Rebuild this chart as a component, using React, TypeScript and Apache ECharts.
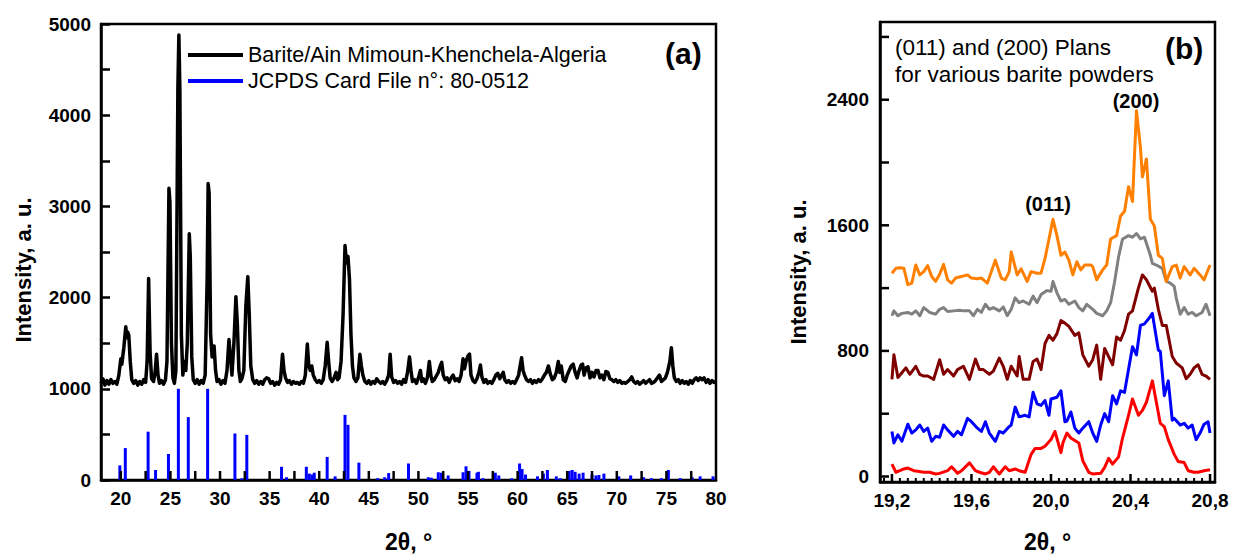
import React, { useEffect, useRef } from "react";
import * as echarts from "echarts";

const FONT = '"Liberation Sans", Arial, Helvetica, sans-serif';

// ---------- Panel (a) ----------
const sampleName = "Barite/Ain Mimoun-Khenchela-Algeria";
const refName = "JCPDS Card File n°: 80-0512";
const yTitle = "Intensity, a. u.";
const xTitle = "2θ, °";

const aXLabels = [20, 25, 30, 35, 40, 45, 50, 55, 60, 65, 70, 75, 80];
const aXTicks = [20, 22.5, 25, 27.5, 30, 32.5, 35, 37.5, 40, 42.5, 45, 47.5, 50, 52.5, 55, 57.5, 60, 62.5, 65, 67.5, 70, 72.5, 75, 77.5];
const aYLabelStep = 1000;
const aYTickStep = 500;

const bariteTrace: [number, number][] = [
  [18.0, 1060], [18.2, 1110], [18.4, 1040], [18.6, 1090], [18.8, 1050], [19.0, 1100], [19.2, 1060], [19.4, 1080],
  [19.6, 1050], [19.8, 1150], [19.9, 1240], [20.0, 1330], [20.1, 1270], [20.3, 1450], [20.5, 1680], [20.6, 1560],
  [20.7, 1620], [20.8, 1590], [20.95, 1300], [21.1, 1100], [21.3, 1060], [21.5, 1090], [21.7, 1040], [21.9, 1080],
  [22.1, 1050], [22.3, 1100], [22.5, 1070], [22.65, 1300], [22.8, 2210], [22.95, 1400], [23.1, 1110], [23.3, 1080],
  [23.45, 1180], [23.6, 1380], [23.75, 1150], [23.9, 1060], [24.1, 1090], [24.3, 1050], [24.5, 1100], [24.65, 1300],
  [24.85, 3200], [24.95, 3050], [25.1, 1500], [25.25, 1120], [25.4, 1060], [25.55, 1200], [25.75, 4300], [25.85, 4880],
  [25.95, 4300], [26.1, 1600], [26.25, 1150], [26.4, 1300], [26.55, 1200], [26.7, 1500], [26.9, 2700], [27.0, 2450],
  [27.15, 1350], [27.3, 1100], [27.5, 1060], [27.7, 1100], [27.9, 1050], [28.1, 1090], [28.3, 1060], [28.5, 1150],
  [28.7, 2200], [28.8, 3250], [28.9, 3150], [29.05, 1600], [29.2, 1350], [29.4, 1470], [29.55, 1200], [29.7, 1080],
  [29.9, 1100], [30.1, 1050], [30.3, 1090], [30.5, 1060], [30.7, 1200], [30.9, 1540], [31.05, 1350], [31.2, 1150],
  [31.4, 1500], [31.6, 2010], [31.75, 1700], [31.9, 1200], [32.05, 1080], [32.2, 1110], [32.4, 1200], [32.6, 1900],
  [32.8, 2230], [32.95, 1800], [33.1, 1250], [33.3, 1100], [33.5, 1060], [33.7, 1090], [33.9, 1050], [34.1, 1080],
  [34.3, 1050], [34.5, 1100], [34.7, 1120], [34.9, 1110], [35.1, 1060], [35.3, 1080], [35.5, 1040], [35.7, 1070],
  [35.9, 1050], [36.1, 1100], [36.3, 1380], [36.45, 1200], [36.6, 1120], [36.8, 1070], [37.0, 1090], [37.2, 1050],
  [37.4, 1080], [37.6, 1060], [37.8, 1070], [38.0, 1050], [38.2, 1080], [38.4, 1060], [38.6, 1150], [38.8, 1490],
  [38.95, 1250], [39.1, 1200], [39.25, 1250], [39.4, 1150], [39.6, 1100], [39.8, 1070], [40.0, 1090], [40.2, 1060],
  [40.4, 1100], [40.6, 1250], [40.8, 1510], [40.95, 1300], [41.1, 1120], [41.3, 1080], [41.5, 1120], [41.7, 1180],
  [41.85, 1100], [42.0, 1120], [42.2, 1300], [42.4, 1800], [42.6, 2570], [42.75, 2380], [42.9, 2450], [43.05, 2200],
  [43.2, 1600], [43.35, 1250], [43.5, 1120], [43.7, 1080], [43.9, 1120], [44.1, 1380], [44.25, 1250], [44.4, 1150],
  [44.6, 1080], [44.8, 1060], [45.0, 1090], [45.2, 1050], [45.4, 1080], [45.6, 1060], [45.8, 1110], [46.0, 1080],
  [46.2, 1060], [46.4, 1080], [46.6, 1050], [46.8, 1090], [47.0, 1150], [47.15, 1380], [47.3, 1130], [47.5, 1070],
  [47.7, 1090], [47.9, 1060], [48.1, 1080], [48.3, 1050], [48.5, 1100], [48.7, 1070], [48.9, 1180], [49.1, 1350],
  [49.25, 1200], [49.4, 1080], [49.6, 1100], [49.8, 1060], [50.0, 1120], [50.2, 1200], [50.35, 1080], [50.5, 1110],
  [50.7, 1060], [50.9, 1120], [51.1, 1300], [51.25, 1150], [51.4, 1080], [51.6, 1100], [51.8, 1140], [52.0, 1180],
  [52.2, 1250], [52.35, 1290], [52.5, 1150], [52.7, 1100], [52.9, 1120], [53.1, 1070], [53.3, 1120], [53.5, 1150],
  [53.7, 1090], [53.9, 1110], [54.1, 1080], [54.3, 1150], [54.5, 1330], [54.65, 1220], [54.8, 1300], [55.0, 1360],
  [55.15, 1380], [55.3, 1150], [55.5, 1090], [55.7, 1070], [55.9, 1110], [56.1, 1180], [56.25, 1260], [56.4, 1130],
  [56.6, 1070], [56.8, 1100], [57.0, 1060], [57.2, 1080], [57.4, 1060], [57.6, 1100], [57.8, 1150], [58.0, 1170],
  [58.2, 1110], [58.4, 1150], [58.55, 1180], [58.7, 1100], [58.9, 1070], [59.1, 1090], [59.3, 1060], [59.5, 1080],
  [59.7, 1060], [59.9, 1100], [60.1, 1150], [60.25, 1250], [60.4, 1340], [60.55, 1200], [60.7, 1150], [60.9, 1100],
  [61.1, 1080], [61.3, 1100], [61.5, 1060], [61.7, 1090], [61.9, 1070], [62.1, 1100], [62.3, 1080], [62.5, 1110],
  [62.7, 1150], [62.9, 1180], [63.1, 1250], [63.3, 1160], [63.5, 1100], [63.7, 1120], [63.9, 1180], [64.1, 1300],
  [64.25, 1180], [64.4, 1250], [64.6, 1100], [64.8, 1080], [65.0, 1150], [65.2, 1200], [65.4, 1250], [65.6, 1270],
  [65.8, 1180], [66.0, 1120], [66.2, 1200], [66.4, 1260], [66.55, 1270], [66.7, 1150], [66.9, 1230], [67.1, 1240],
  [67.3, 1120], [67.5, 1180], [67.7, 1130], [67.9, 1200], [68.1, 1200], [68.3, 1120], [68.5, 1150], [68.7, 1100],
  [68.9, 1190], [69.1, 1180], [69.3, 1110], [69.5, 1100], [69.7, 1080], [69.9, 1100], [70.1, 1070], [70.3, 1090],
  [70.5, 1060], [70.7, 1070], [70.9, 1060], [71.1, 1080], [71.3, 1100], [71.5, 1130], [71.7, 1080], [71.9, 1060],
  [72.1, 1080], [72.3, 1050], [72.5, 1070], [72.7, 1090], [72.9, 1060], [73.1, 1080], [73.3, 1100], [73.5, 1060],
  [73.7, 1070], [73.9, 1090], [74.1, 1120], [74.3, 1150], [74.5, 1080], [74.7, 1100], [74.9, 1120], [75.1, 1180],
  [75.35, 1300], [75.5, 1450], [75.65, 1250], [75.8, 1120], [76.0, 1080], [76.2, 1100], [76.4, 1060], [76.6, 1090],
  [76.8, 1060], [77.0, 1080], [77.2, 1050], [77.4, 1090], [77.6, 1060], [77.8, 1100], [78.0, 1120], [78.2, 1090],
  [78.4, 1120], [78.6, 1100], [78.8, 1120], [79.0, 1070], [79.2, 1100], [79.4, 1060], [79.6, 1090], [79.8, 1070],
  [80.0, 1080],
];

const jcpdsSticks: [number, number][] = [
  [19.9, 160], [20.45, 350], [22.75, 530], [23.5, 110], [24.8, 285], [25.8, 1000], [26.8, 690], [28.75, 1000],
  [31.5, 510], [32.2, 20], [32.7, 495], [36.2, 145], [36.7, 30], [38.7, 145], [39.0, 70], [39.3, 60], [39.5, 80],
  [40.8, 253], [41.6, 40], [42.6, 714], [42.9, 605], [44.0, 190], [45.9, 20], [46.6, 30], [47.0, 76], [49.0, 181],
  [51.0, 30], [51.3, 25], [52.0, 85], [52.3, 80], [53.0, 50], [54.5, 85], [54.8, 150], [55.1, 100], [55.9, 80],
  [56.05, 90], [56.5, 20], [57.75, 80], [58.1, 50], [59.4, 20], [60.2, 181], [60.45, 120], [60.8, 60], [62.0, 40],
  [62.6, 70], [63.0, 110], [63.9, 40], [64.3, 20], [65.2, 100], [65.5, 110], [65.8, 90], [66.2, 70], [66.6, 80],
  [67.5, 60], [67.9, 50], [68.2, 55], [68.7, 70], [70.2, 40], [71.4, 50], [72.7, 30], [73.5, 20], [74.5, 20],
  [75.2, 110], [76.4, 20], [77.6, 30], [78.4, 40], [79.7, 40],
];

// ---------- Panel (b) ----------
const bXLabels = [19.2, 19.6, 20.0, 20.4, 20.8];
const bXMinorTicks = [19.16, 19.24, 19.28, 19.32, 19.36, 19.4, 19.44, 19.48, 19.52, 19.56, 19.64, 19.68,
  19.72, 19.76, 19.8, 19.84, 19.88, 19.92, 19.96, 20.04, 20.08, 20.12, 20.16, 20.2, 20.24, 20.28, 20.32, 20.36,
  20.44, 20.48, 20.52, 20.56, 20.6, 20.64, 20.68, 20.72, 20.76];
const bYLabels = [0, 800, 1600, 2400];
const bYTicks = [0, 400, 800, 1200, 1600, 2000, 2400, 2800];

const redSeries: [number, number][] = [
  [19.20, 79], [19.22, 27], [19.24, 37], [19.26, 48], [19.28, 54], [19.31, 37], [19.33, 33], [19.36, 27], [19.39, 27],
  [19.42, 16], [19.44, 20], [19.48, 37], [19.50, 62], [19.53, 20], [19.55, 37], [19.59, 87], [19.62, 37], [19.64, 27],
  [19.67, 16], [19.69, 27], [19.71, 62], [19.74, 16], [19.77, 62], [19.79, 37], [19.82, 48], [19.84, 37], [19.87, 27],
  [19.90, 141], [19.92, 179], [19.95, 179], [19.97, 193], [20.00, 235], [20.02, 287], [20.05, 152], [20.06, 214],
  [20.08, 277], [20.10, 245], [20.14, 214], [20.16, 100], [20.19, 27], [20.21, 16], [20.25, 20], [20.27, 58],
  [20.29, 116], [20.31, 79], [20.34, 125], [20.36, 245], [20.39, 390], [20.41, 494], [20.44, 390], [20.46, 421],
  [20.48, 473], [20.51, 609], [20.53, 473], [20.55, 338], [20.57, 318], [20.59, 235], [20.62, 141], [20.64, 96],
  [20.67, 89], [20.69, 37], [20.72, 27], [20.74, 27], [20.77, 37], [20.80, 43],
];

const blueSeries: [number, number][] = [
  [19.20, 287], [19.21, 214], [19.23, 266], [19.25, 224], [19.28, 333], [19.30, 277], [19.32, 297], [19.34, 328],
  [19.36, 287], [19.38, 308], [19.40, 224], [19.42, 256], [19.44, 250], [19.46, 328], [19.48, 297], [19.51, 256],
  [19.53, 287], [19.55, 266], [19.58, 370], [19.60, 349], [19.63, 308], [19.65, 287], [19.67, 349], [19.69, 277],
  [19.72, 224], [19.74, 287], [19.76, 277], [19.79, 318], [19.80, 328], [19.82, 442], [19.84, 380], [19.87, 390],
  [19.89, 380], [19.91, 536], [19.93, 463], [19.95, 453], [19.97, 484], [19.99, 390], [20.00, 494], [20.03, 505],
  [20.05, 546], [20.07, 349], [20.08, 353], [20.10, 411], [20.12, 308], [20.14, 277], [20.16, 308], [20.19, 349],
  [20.21, 277], [20.23, 224], [20.25, 328], [20.27, 401], [20.29, 349], [20.31, 515], [20.33, 463], [20.35, 546],
  [20.37, 536], [20.39, 681], [20.41, 827], [20.43, 775], [20.45, 962], [20.47, 972], [20.49, 1003], [20.51, 1039],
  [20.54, 806], [20.55, 796], [20.57, 515], [20.59, 609], [20.61, 359], [20.62, 370], [20.65, 328], [20.67, 339],
  [20.69, 308], [20.71, 328], [20.73, 235], [20.75, 277], [20.77, 333], [20.79, 349], [20.80, 277],
];

const maroonSeries: [number, number][] = [
  [19.20, 619], [19.21, 775], [19.23, 630], [19.25, 661], [19.27, 692], [19.29, 651], [19.32, 702], [19.34, 651],
  [19.36, 640], [19.38, 640], [19.41, 619], [19.44, 744], [19.46, 651], [19.48, 681], [19.51, 640], [19.53, 681],
  [19.56, 702], [19.59, 619], [19.62, 748], [19.64, 681], [19.66, 681], [19.69, 651], [19.71, 671], [19.74, 754],
  [19.76, 702], [19.78, 619], [19.80, 702], [19.83, 640], [19.84, 764], [19.86, 619], [19.89, 619], [19.91, 733],
  [19.93, 748], [19.95, 681], [19.97, 847], [19.99, 899], [20.01, 868], [20.03, 910], [20.05, 993], [20.07, 977],
  [20.09, 956], [20.12, 899], [20.14, 915], [20.16, 775], [20.19, 702], [20.21, 744], [20.23, 837], [20.25, 619],
  [20.27, 816], [20.29, 764], [20.31, 712], [20.33, 889], [20.35, 868], [20.37, 930], [20.39, 1034], [20.41, 1055],
  [20.44, 1201], [20.46, 1284], [20.48, 1253], [20.51, 1180], [20.52, 1201], [20.54, 1065], [20.56, 962],
  [20.58, 962], [20.61, 764], [20.63, 723], [20.66, 692], [20.68, 623], [20.70, 651], [20.72, 692], [20.74, 712],
  [20.76, 651], [20.78, 640], [20.80, 619],
];

const graySeries: [number, number][] = [
  [19.20, 1024], [19.21, 1055], [19.23, 1024], [19.25, 1039], [19.28, 1045], [19.30, 1034], [19.32, 1055],
  [19.34, 1024], [19.36, 1076], [19.39, 1045], [19.42, 1034], [19.44, 1065], [19.46, 1076], [19.48, 1051],
  [19.51, 1055], [19.54, 1059], [19.56, 1055], [19.59, 1055], [19.61, 1024], [19.63, 1065], [19.65, 1045],
  [19.67, 1097], [19.69, 1065], [19.71, 1076], [19.74, 1055], [19.76, 1080], [19.78, 1024], [19.80, 1065],
  [19.82, 1138], [19.84, 1107], [19.86, 1118], [19.89, 1097], [19.91, 1149], [19.93, 1107], [19.95, 1159],
  [19.98, 1184], [20.00, 1180], [20.01, 1242], [20.03, 1170], [20.05, 1118], [20.07, 1128], [20.09, 1097],
  [20.12, 1118], [20.14, 1076], [20.16, 1055], [20.18, 1097], [20.21, 1065], [20.23, 1039], [20.26, 1024],
  [20.28, 1055], [20.30, 1107], [20.32, 1240], [20.34, 1400], [20.36, 1513], [20.39, 1534], [20.41, 1524],
  [20.43, 1548], [20.45, 1513], [20.47, 1524], [20.50, 1409], [20.51, 1357], [20.53, 1347], [20.56, 1326],
  [20.58, 1243], [20.60, 1232], [20.62, 1211], [20.63, 1138], [20.65, 1034], [20.67, 1076], [20.69, 1034],
  [20.71, 1045], [20.73, 1024], [20.76, 1045], [20.78, 1097], [20.80, 1024],
];

const orangeSeries: [number, number][] = [
  [19.20, 1295], [19.22, 1326], [19.24, 1330], [19.26, 1326], [19.28, 1222], [19.30, 1232], [19.32, 1347],
  [19.34, 1284], [19.36, 1305], [19.38, 1343], [19.40, 1274], [19.42, 1243], [19.44, 1288], [19.46, 1351],
  [19.48, 1253], [19.50, 1232], [19.52, 1264], [19.55, 1274], [19.58, 1284], [19.60, 1264], [19.63, 1260],
  [19.65, 1264], [19.68, 1232], [19.70, 1305], [19.72, 1378], [19.75, 1264], [19.77, 1253], [19.79, 1305],
  [19.80, 1430], [19.83, 1284], [19.85, 1322], [19.88, 1243], [19.90, 1305], [19.93, 1295], [19.95, 1295],
  [19.97, 1389], [19.99, 1513], [20.01, 1638], [20.03, 1534], [20.05, 1409], [20.07, 1430], [20.09, 1378],
  [20.11, 1284], [20.13, 1368], [20.15, 1316], [20.17, 1347], [20.20, 1347], [20.21, 1337], [20.23, 1253],
  [20.26, 1316], [20.28, 1347], [20.30, 1513], [20.33, 1534], [20.35, 1659], [20.37, 1690], [20.39, 1846],
  [20.41, 1752], [20.43, 2330], [20.45, 2095], [20.46, 1908], [20.48, 2023], [20.50, 1638], [20.52, 1596],
  [20.54, 1409], [20.56, 1389], [20.58, 1243], [20.61, 1337], [20.63, 1347], [20.65, 1264], [20.67, 1337],
  [20.70, 1284], [20.72, 1326], [20.75, 1284], [20.77, 1253], [20.80, 1347],
];

const bSeries = [
  { data: redSeries, color: "#ff0000" },
  { data: blueSeries, color: "#0000ff" },
  { data: maroonSeries, color: "#800000" },
  { data: graySeries, color: "#808080" },
  { data: orangeSeries, color: "#ff8000" },
];

const A_X = { min: 18, max: 80 };
const A_Y = { min: 0, max: 5000 };
const B_X = { min: 19.14, max: 20.825 };
const B_Y = { min: -35, max: 2895 };

const isMultiple = (v: number, step: number) => {
  const k = v / step;
  return Math.abs(k - Math.round(k)) < 1e-6;
};

const tickLabelStyle = { fontFamily: FONT, fontSize: 19, fontWeight: "bold" as const, color: "#000" };
const nameStyle = { fontFamily: FONT, fontSize: 23, fontWeight: "bold" as const, color: "#000" };
const axisLineStyle = { show: true, onZero: false, lineStyle: { color: "#000", width: 2.5 } };

export default function App() {
  const ref = useRef<HTMLDivElement>(null);

  useEffect(() => {
    document.body.style.margin = "0";
    if (!ref.current) return;
    const chart = echarts.init(ref.current, null, { renderer: "svg" });

    const texts: any[] = [
      { type: "text", left: 665, top: 38, style: { text: "(a)", font: `bold 30px ${FONT}`, fill: "#000" } },
      { type: "text", left: 1165, top: 33, style: { text: "(b)", font: `bold 30px ${FONT}`, fill: "#000" } },
      {
        type: "text", left: 895, top: 34,
        style: { text: "(011) and (200) Plans\nfor various barite powders", font: `22.5px ${FONT}`, lineHeight: 27, fill: "#000" },
      },
      { type: "text", x: 1048, y: 204, style: { text: "(011)", font: `bold 20px ${FONT}`, fill: "#000", align: "center", verticalAlign: "middle" } },
      { type: "text", x: 1136, y: 101, style: { text: "(200)", font: `bold 20px ${FONT}`, fill: "#000", align: "center", verticalAlign: "middle" } },
      {
        type: "text", x: 23, y: 270, rotation: Math.PI / 2,
        style: { text: yTitle, font: `bold 22px ${FONT}`, fill: "#000", align: "center", verticalAlign: "middle" },
      },
      {
        type: "text", x: 798, y: 272, rotation: Math.PI / 2,
        style: { text: yTitle, font: `bold 22px ${FONT}`, fill: "#000", align: "center", verticalAlign: "middle" },
      },
    ];

    const option: any = {
      animation: false,
      textStyle: { fontFamily: FONT },
      grid: [
        { left: 101, right: 520, top: 24, bottom: 74, show: true, borderColor: "#000", borderWidth: 2.5, backgroundColor: "transparent" },
        { left: 880, right: 21, top: 22, bottom: 66, show: true, borderColor: "#000", borderWidth: 2.5, backgroundColor: "transparent" },
      ],
      legend: {
        orient: "vertical",
        left: 188,
        top: 44,
        padding: 0,
        itemWidth: 55,
        itemHeight: 4,
        itemGap: 4,
        textStyle: { fontFamily: FONT, fontSize: 21.5, color: "#000", lineHeight: 22, padding: [0, 0, 0, 0] },
        data: [
          { name: sampleName, icon: "rect" },
          { name: refName, icon: "rect" },
        ],
      },
      xAxis: [
        {
          type: "value", gridIndex: 0, ...A_X,
          axisLine: axisLineStyle,
          axisTick: { show: false },
          axisLabel: { ...tickLabelStyle, customValues: aXLabels, margin: 9 },
          splitLine: { show: false },
          name: xTitle, nameLocation: "middle", nameGap: 50, nameTextStyle: nameStyle,
        },
        {
          type: "value", gridIndex: 1, ...B_X,
          axisLine: axisLineStyle,
          axisTick: { show: false },
          axisLabel: { ...tickLabelStyle, customValues: bXLabels, margin: 9, formatter: (v: number) => v.toFixed(1).replace(".", ",") },
          splitLine: { show: false },
          name: xTitle, nameLocation: "middle", nameGap: 48, nameTextStyle: nameStyle,
        },
      ],
      yAxis: [
        {
          type: "value", gridIndex: 0, ...A_Y, interval: aYTickStep,
          axisLine: axisLineStyle,
          axisTick: { show: true, inside: true, length: 9, lineStyle: { color: "#000", width: 2.5 } },
          axisLabel: { ...tickLabelStyle, margin: 10, formatter: (v: number) => (isMultiple(v, aYLabelStep) ? String(v) : "") },
          splitLine: { show: false },
        },
        {
          type: "value", gridIndex: 1, ...B_Y,
          axisLine: axisLineStyle,
          axisTick: { show: false },
          axisLabel: { ...tickLabelStyle, customValues: bYLabels, margin: 11, formatter: (v: number) => String(v) },
          splitLine: { show: false },
        },
      ],
      series: [
        {
          name: refName, type: "bar", xAxisIndex: 0, yAxisIndex: 0, barWidth: 3,
          itemStyle: { color: "#0000ff" }, data: jcpdsSticks, silent: true,
        },
        {
          name: sampleName, type: "line", xAxisIndex: 0, yAxisIndex: 0, symbol: "none", showSymbol: false,
          itemStyle: { color: "#000" },
          lineStyle: { color: "#000", width: 3.5, join: "round" }, data: bariteTrace, silent: true,
        },
        ...bSeries.map((s) => ({
          type: "line", xAxisIndex: 1, yAxisIndex: 1, symbol: "none", showSymbol: false,
          itemStyle: { color: s.color },
          lineStyle: { color: s.color, width: 3, join: "round" }, data: s.data, silent: true,
        })),
      ],
      graphic: texts,
    };

    chart.setOption(option);

    // inward tick marks, each positioned through the axes' own scales
    const ticks: any[] = [];
    const toPx = (axisIdx: number, dim: "x" | "y", v: number): number => {
      try {
        const r = chart.convertToPixel(dim === "x" ? { xAxisIndex: axisIdx } : { yAxisIndex: axisIdx }, v) as any;
        return typeof r === "number" ? r : NaN;
      } catch (e) {
        return NaN;
      }
    };
    const addX = (axisIdx: number, v: number, yMin: number, len: number, w: number) => {
      const x = toPx(axisIdx, "x", v);
      const y = toPx(axisIdx, "y", yMin);
      if (isNaN(x) || isNaN(y)) return;
      ticks.push({ type: "line", silent: true, z: 100, shape: { x1: x, y1: y, x2: x, y2: y - len }, style: { stroke: "#000", lineWidth: w } });
    };
    const addY = (axisIdx: number, v: number, xMin: number, len: number, w: number) => {
      const x = toPx(axisIdx, "x", xMin);
      const y = toPx(axisIdx, "y", v);
      if (isNaN(x) || isNaN(y)) return;
      ticks.push({ type: "line", silent: true, z: 100, shape: { x1: x, y1: y, x2: x + len, y2: y }, style: { stroke: "#000", lineWidth: w } });
    };
    aXTicks.forEach((v) => addX(0, v, A_Y.min, 9, 2.5));
    bXLabels.forEach((v) => addX(1, v, B_Y.min, 8, 2.5));
    bXMinorTicks.forEach((v) => addX(1, v, B_Y.min, 4, 2));
    bYTicks.forEach((v) => addY(1, v, B_X.min, 9, 2.5));

    if (ticks.length) chart.setOption({ graphic: [...texts, ...ticks] });
    return () => chart.dispose();
  }, []);

  return <div ref={ref} style={{ position: "absolute", left: 0, top: 0, width: 1236, height: 558 }} />;
}
